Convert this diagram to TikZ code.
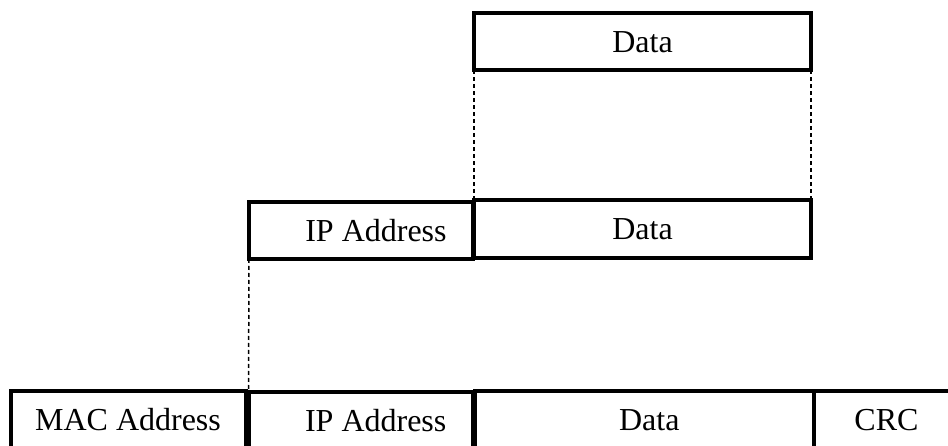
\documentclass[tikz,border=0pt]{standalone}
\usepackage{fontspec}
\setmainfont{Liberation Serif}

\begin{document}
\begin{tikzpicture}[
  x=1pt,y=-1pt,
  field/.style={draw,line width=4pt,rectangle,anchor=north west,inner sep=0pt,outer sep=0pt,
    font=\fontsize{32}{38}\selectfont},
  link/.style={line width=1.5pt,dash pattern=on 4pt off 3pt}
]
  \useasboundingbox (0,0) rectangle (948,446);
  \clip (0,0) rectangle (948,446);

  % top: payload only
  \node[field,minimum width=337pt,minimum height=57pt] (dtop) at (474,13.5) {Data};

  % middle: IP packet
  \node[field,minimum width=224pt,minimum height=56.5pt] (ipmid) at (249,202.5) {\hspace*{30pt}IP Address};
  \node[field,minimum width=337pt,minimum height=58pt] (dmid) at (474,200) {Data};

  % bottom: frame
  \node[field,minimum width=235pt,minimum height=58pt] (mac) at (10.5,391) {MAC Address};
  \node[field,minimum width=224.5pt,minimum height=58pt] (ipbot) at (248.5,392) {\hspace*{30pt}IP Address};
  \node[field,minimum width=338.5pt,minimum height=58pt] (dbot) at (475,391) {\hspace*{10pt}Data};
  \node[field,minimum width=146pt,minimum height=58pt] (crc) at (813.5,391) {CRC};

  \draw[link] (dtop.south west) -- (dmid.north west);
  \draw[link] (dtop.south east) -- (dmid.north east);
  \draw[link] (ipmid.south west) -- (ipbot.north west);
\end{tikzpicture}
\end{document}
